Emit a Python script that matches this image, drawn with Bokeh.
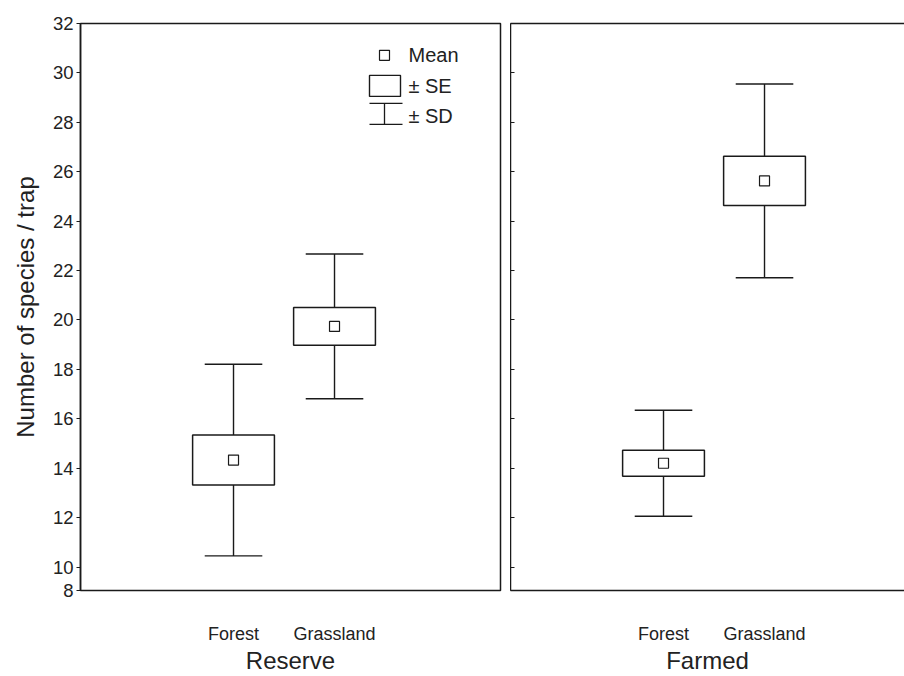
from bokeh.plotting import figure
from bokeh.layouts import row
from bokeh.models import Range1d, FixedTicker, LinearAxis, ColumnDataSource
from bokeh.core.properties import value
from bokeh.embed import file_html
from bokeh.resources import INLINE

# ---------------- data ----------------
categories = ["Forest", "Grassland"]
panel_names = ["Reserve", "Farmed"]

reserve_mean = [14.33, 19.74]
reserve_se = [1.01, 0.76]
reserve_sd = [3.88, 2.93]

farmed_mean = [14.20, 25.63]
farmed_se = [0.525, 1.00]
farmed_sd = [2.145, 3.92]

y_tick_values = [9.05, 10, 12, 14, 16, 18, 20, 22, 24, 26, 28, 30, 32]
y_tick_labels = ["8", "10", "12", "14", "16", "18", "20", "22", "24", "26", "28", "30", "32"]

legend_labels = ["Mean", "\u00b1 SE", "\u00b1 SD"]
y_label = "Number of species / trap"

# ---------------- style ----------------
FONT = "Liberation Sans"
LINE = "#1a1a1a"
TXT = "#222222"
Y_START, Y_END = 9.05, 32
X_START = -1.515
PX_PER_UNIT = 101.0
BOX_W = 0.81
CAP_W = 0.57
TOP = 23
HEIGHT = 676
BOTTOM = 85


def style_xaxis(ax, label):
    ax.ticker = FixedTicker(ticks=list(range(len(categories))))
    ax.major_label_overrides = {i: c for i, c in enumerate(categories)}
    ax.major_tick_line_color = None
    ax.minor_tick_line_color = None
    ax.major_label_standoff = 27
    ax.major_label_text_font = FONT
    ax.major_label_text_font_size = "18px"
    ax.major_label_text_color = TXT
    ax.axis_label = label
    ax.axis_label_text_font = FONT
    ax.axis_label_text_font_size = "24px"
    ax.axis_label_text_font_style = "normal"
    ax.axis_label_text_color = TXT
    ax.axis_label_standoff = 0


def make_panel(name, mean, se, sd, frame_w, left_border, right_border, first):
    x_end = X_START + frame_w / PX_PER_UNIT
    p = figure(width=left_border + frame_w + right_border, height=HEIGHT,
               x_range=Range1d(X_START, x_end), y_range=Range1d(Y_START, Y_END),
               output_backend="svg", toolbar_location=None,
               min_border_left=left_border, min_border_right=right_border,
               min_border_top=TOP, min_border_bottom=BOTTOM)
    p.grid.visible = False
    p.background_fill_color = "white"
    p.border_fill_color = "white"

    xs = list(range(len(categories)))
    src = ColumnDataSource(dict(
        x=xs, mean=mean,
        se_lo=[m - s for m, s in zip(mean, se)], se_hi=[m + s for m, s in zip(mean, se)],
        sd_lo=[m - s for m, s in zip(mean, sd)], sd_hi=[m + s for m, s in zip(mean, sd)],
        box_l=[x - BOX_W / 2 for x in xs], box_r=[x + BOX_W / 2 for x in xs],
        cap_l=[x - CAP_W / 2 for x in xs], cap_r=[x + CAP_W / 2 for x in xs],
    ))
    p.segment(x0="x", y0="sd_lo", x1="x", y1="sd_hi", source=src, line_color=LINE, line_width=1.4)
    p.segment(x0="cap_l", y0="sd_hi", x1="cap_r", y1="sd_hi", source=src, line_color=LINE, line_width=1.4)
    p.segment(x0="cap_l", y0="sd_lo", x1="cap_r", y1="sd_lo", source=src, line_color=LINE, line_width=1.4)
    p.quad(left="box_l", right="box_r", bottom="se_lo", top="se_hi", source=src,
           fill_color="white", line_color=LINE, line_width=1.5)
    p.scatter(x="x", y="mean", source=src, marker="square", size=10,
              fill_color="white", line_color=LINE, line_width=1.2)

    style_xaxis(p.xaxis[0], name)
    yax = p.yaxis[0]
    yax.ticker = FixedTicker(ticks=y_tick_values)
    yax.minor_tick_line_color = None
    yax.axis_line_color = LINE
    yax.axis_line_width = 1.5
    yax.major_tick_line_color = LINE
    yax.major_tick_line_width = 1.2
    p.xaxis[0].axis_line_color = LINE if not first else None
    p.xaxis[0].axis_line_width = 1.5

    if first:
        p.outline_line_color = LINE
        p.outline_line_width = 1.5
        p.outline_line_alpha = 1.0
        yax.major_tick_out = 4
        yax.major_tick_in = 0
        yax.major_label_standoff = 3
        yax.major_label_overrides = dict(zip(y_tick_values, y_tick_labels))
        yax.major_label_text_font = FONT
        yax.major_label_text_font_size = "18.5px"
        yax.major_label_text_color = TXT
        yax.axis_label = y_label
        yax.axis_label_text_font = FONT
        yax.axis_label_text_font_size = "24px"
        yax.axis_label_text_font_style = "normal"
        yax.axis_label_text_color = TXT
        yax.axis_label_standoff = 11

        # legend drawn in the panel
        lx_mark = X_START + 304 / PX_PER_UNIT
        lx_l = X_START + 289 / PX_PER_UNIT
        lx_r = X_START + 320 / PX_PER_UNIT
        lx_r2 = X_START + 322 / PX_PER_UNIT
        lx_txt = X_START + 328 / PX_PER_UNIT
        ly = [30.71, 29.47, 28.25]
        p.scatter(x=[lx_mark], y=[ly[0]], marker="square", size=10,
                  fill_color="white", line_color=LINE, line_width=1.2)
        p.quad(left=[lx_l], right=[lx_r], bottom=[29.05], top=[29.90],
               fill_color="white", line_color=LINE, line_width=1.4)
        p.segment(x0=[lx_l, lx_l, lx_mark], y0=[28.77, 27.92, 28.77],
                  x1=[lx_r2, lx_r2, lx_mark], y1=[28.77, 27.92, 27.92],
                  line_color=LINE, line_width=1.3)
        p.text(x=[lx_txt] * 3, y=ly, text=legend_labels, text_font=value(FONT),
               text_font_size="20px", text_baseline="middle", text_align="left",
               text_color=TXT)
    else:
        p.outline_line_color = None
        yax.major_tick_out = 0
        yax.major_tick_in = 4
        yax.major_label_standoff = 0
        yax.major_label_overrides = {t: "" for t in y_tick_values}
        yax.major_label_text_color = None
        top_axis = LinearAxis(ticker=FixedTicker(ticks=[]), axis_line_color=LINE,
                              axis_line_width=1.5, major_tick_line_color=None,
                              minor_tick_line_color=None, major_label_text_color=None,
                              major_label_standoff=0)
        p.add_layout(top_axis, "above")
    return p


left = make_panel(panel_names[0], reserve_mean, reserve_se, reserve_sd,
                  420, 80, 10, True)
right = make_panel(panel_names[1], farmed_mean, farmed_se, farmed_sd,
                   394, 0, 0, False)

layout = row(left, right)
open("out.html", "w").write(file_html(layout, INLINE))
